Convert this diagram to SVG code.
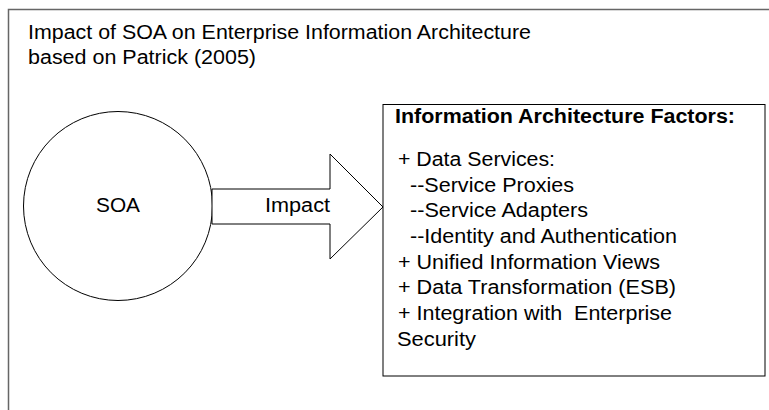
<svg xmlns="http://www.w3.org/2000/svg" width="769" height="410" viewBox="0 0 769 410">
<style>
text{font-family:"Liberation Sans",Arial,sans-serif;fill:#000;font-size:19.5px}
.h{font-weight:bold}
.s{fill:#fff;stroke:#000;stroke-width:1}
</style>
<rect width="769" height="410" fill="#fff"/>
<g id="frame">
<path d="M8.5 410 V9.5 H769" fill="none" stroke="#666" stroke-width="1.5"/>
</g>
<g id="title">
<text x="28" y="39" textLength="503" lengthAdjust="spacingAndGlyphs">Impact of SOA on Enterprise Information Architecture</text>
<text x="28" y="64" textLength="228" lengthAdjust="spacingAndGlyphs">based on Patrick (2005)</text>
</g>
<g id="soa">
<circle class="s" cx="118" cy="206" r="94.5"/>
<text x="96" y="212" textLength="44" lengthAdjust="spacingAndGlyphs">SOA</text>
</g>
<g id="connectors">
<path class="s" d="M212 189 H330 V154 L383 207 L330 259 V224 H212 Z"/>
<text x="265" y="212" textLength="65" lengthAdjust="spacingAndGlyphs">Impact</text>
</g>
<g id="factors">
<rect class="s" x="383" y="104.5" width="382" height="271.5"/>
<text class="h" x="395" y="123" textLength="340" lengthAdjust="spacingAndGlyphs">Information Architecture Factors:</text>
<text x="398" y="166" textLength="157" lengthAdjust="spacingAndGlyphs">+ Data Services:</text>
<text x="410" y="192" textLength="164" lengthAdjust="spacingAndGlyphs">--Service Proxies</text>
<text x="410" y="217" textLength="178" lengthAdjust="spacingAndGlyphs">--Service Adapters</text>
<text x="410" y="243" textLength="267" lengthAdjust="spacingAndGlyphs">--Identity and Authentication</text>
<text x="398" y="269" textLength="262" lengthAdjust="spacingAndGlyphs">+ Unified Information Views</text>
<text x="398" y="294" textLength="278" lengthAdjust="spacingAndGlyphs">+ Data Transformation (ESB)</text>
<text x="398" y="320" textLength="274" lengthAdjust="spacingAndGlyphs" xml:space="preserve">+ Integration with  Enterprise</text>
<text x="397" y="346" textLength="79" lengthAdjust="spacingAndGlyphs">Security</text>
</g>
</svg>
